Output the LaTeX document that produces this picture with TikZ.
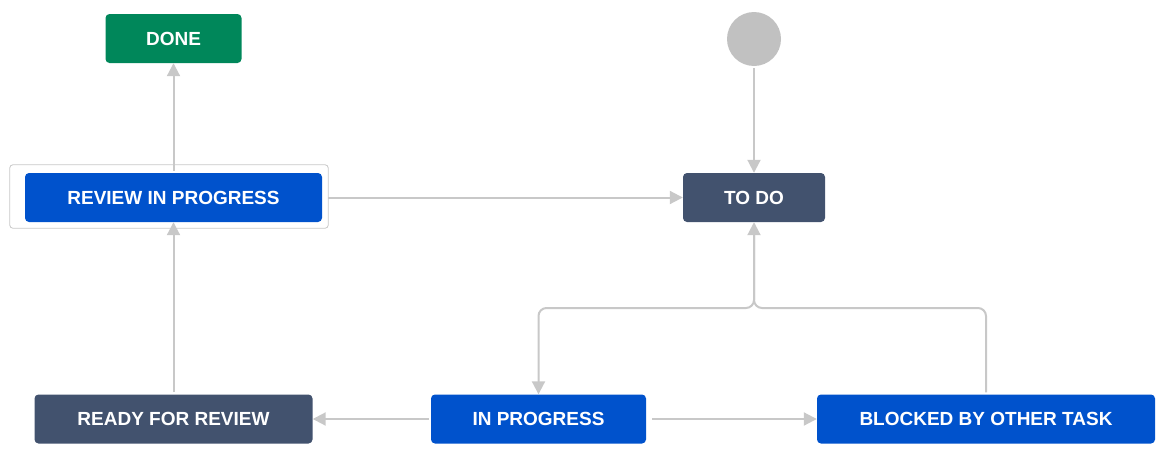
\documentclass[tikz,border=0pt]{standalone}
\usepackage{fontspec}
\setmainfont{Liberation Sans}
\usetikzlibrary{arrows.meta}
\definecolor{jiraBlue}{HTML}{0052CC}
\definecolor{jiraSlate}{HTML}{42526E}
\definecolor{jiraGreen}{HTML}{00875A}
\definecolor{lineGray}{HTML}{C8C8C8}
\definecolor{startGray}{HTML}{C1C1C1}
\begin{document}
\begin{tikzpicture}[x=1pt, y=-1pt,
    state/.style={rectangle, rounded corners=4pt, minimum height=49pt, inner sep=0pt,
      text=white, font=\fontsize{19}{21}\selectfont\bfseries},
    bluenode/.style={state, fill=jiraBlue},
    slatenode/.style={state, fill=jiraSlate},
    greennode/.style={state, fill=jiraGreen},
    flow/.style={draw=lineGray, line width=2pt, shorten <=2pt,
      -{Triangle[length=13pt,width=13pt,fill=lineGray]}}
  ]
  \useasboundingbox (0,0) rectangle (1168,461);
  \node[greennode, minimum width=136pt] (done) at (173.5,38.5) {DONE};
  \node[bluenode, minimum width=297pt] (review) at (173.5,197.5) {REVIEW IN PROGRESS};
  \node[slatenode, minimum width=278pt] (ready) at (173.5,419) {READY FOR REVIEW};
  \node[circle, fill=startGray, minimum size=54pt, inner sep=0pt] (start) at (754,39) {};
  \node[slatenode, minimum width=142pt] (todo) at (754,197.5) {TO DO};
  \node[bluenode, minimum width=215pt] (inprog) at (538.5,419) {IN PROGRESS};
  \node[bluenode, minimum width=338pt] (blocked) at (986,419) {BLOCKED BY OTHER TASK};
  \coordinate (split) at (754,308);
  % selection frame
  \draw[lineGray, line width=0.8pt, rounded corners=3pt]
    ([xshift=-15pt,yshift=8pt]review.north west) rectangle ([xshift=6pt,yshift=-6pt]review.south east);
  % transitions
  \draw[flow] (start) -- (todo);
  \draw[flow] (review) -- (done);
  \draw[flow, shorten <=6pt] (review) -- (todo);
  \draw[flow] (ready) -- (review);
  \draw[flow] (inprog) -- (ready);
  \draw[flow, shorten <=6pt] (inprog) -- (blocked);
  \draw[flow, rounded corners=8pt] (todo.south) -- (split) -| (inprog.north);
  \draw[flow, rounded corners=8pt] (blocked.north) |- (split) -- (todo.south);
\end{tikzpicture}
\end{document}
